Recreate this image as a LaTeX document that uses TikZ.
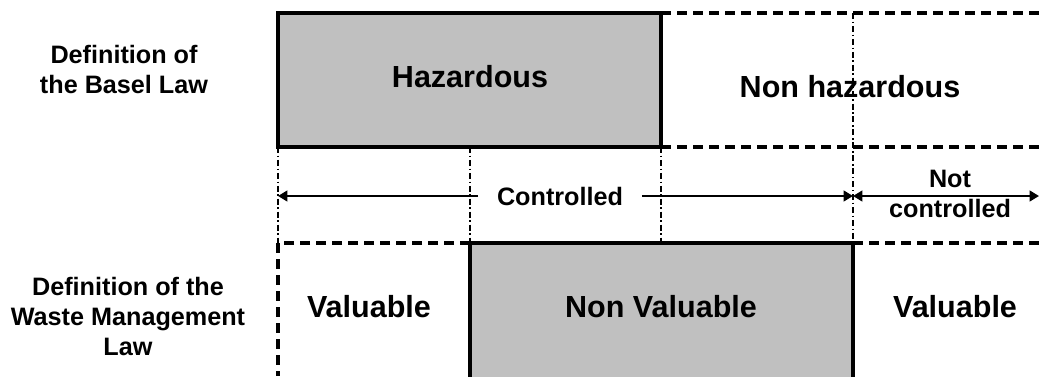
\documentclass[tikz,border=0pt]{standalone}
\usepackage{fontspec}
\setmainfont{Liberation Sans}
\usetikzlibrary{arrows.meta}

\definecolor{boxgray}{HTML}{C0C0C0}

\tikzset{
  >={Triangle[length=7pt,width=8pt]},
  solidbox/.style={fill=boxgray, draw=black, line width=2.4pt},
  dashedline/.style={line width=2.3pt, dash pattern=on 7.5pt off 4.5pt},
  guide/.style={line width=1.1pt, dash pattern=on 4.5pt off 2pt on 1.2pt off 2pt},
  spanline/.style={line width=1.6pt},
  big/.style={font=\bfseries\fontsize{22.9}{27}\selectfont},
  small/.style={font=\bfseries\fontsize{18.9}{22.5}\selectfont, align=center},
}

\begin{document}
\begin{tikzpicture}[x=0.75pt, y=-0.75pt]
  \useasboundingbox (0,0) rectangle (1039,376);

  % Basel row
  \draw[solidbox] (278,13) rectangle (661,147);
  \draw[dashedline] (661,13) -- (1039,13);
  \draw[dashedline] (661,147) -- (1039,147);

  % Waste management row
  \path[solidbox] (470,390) -- (470,243) -- (853,243) -- (853,390);
  \draw[dashedline] (470,243) -- (278,243) -- (278,376);
  \draw[dashedline] (853,243) -- (1039,243);

  % dash-dot guides
  \draw[guide] (278,147) -- (278,243);
  \draw[guide] (470,147) -- (470,243);
  \draw[guide] (661,147) -- (661,243);
  \draw[guide] (853,13) -- (853,243);

  % box texts
  \node[big, anchor=base] (haz) at (470,87) {Hazardous};
  \node[big, anchor=base] (nonhaz) at (850,97) {Non hazardous};
  \node[big, anchor=base] (val1) at (369,317) {Valuable};
  \node[big, anchor=base] (nonval) at (661,317) {Non Valuable};
  \node[big, anchor=base] (val2) at (955,317) {Valuable};

  % row labels
  \node[small] (basel) at (124,69) {Definition of\\the Basel Law};
  \node[small] (wml) at (128,316) {Definition of the\\Waste Management\\Law};

  % controlled ranges
  \coordinate (ctlL) at (278,196);
  \coordinate (split) at (853,196);
  \coordinate (ncR) at (1039,196);
  \node[small, inner xsep=14pt] (ctl) at (560,196) {Controlled};
  \node[small] (notctl) at (950,194) {Not\\controlled};
  \draw[spanline, ->] (ctl.west) -- (ctlL);
  \draw[spanline, ->] (ctl.east) -- (split);
  \draw[spanline, <->] (split) -- (ncR);
\end{tikzpicture}
\end{document}
